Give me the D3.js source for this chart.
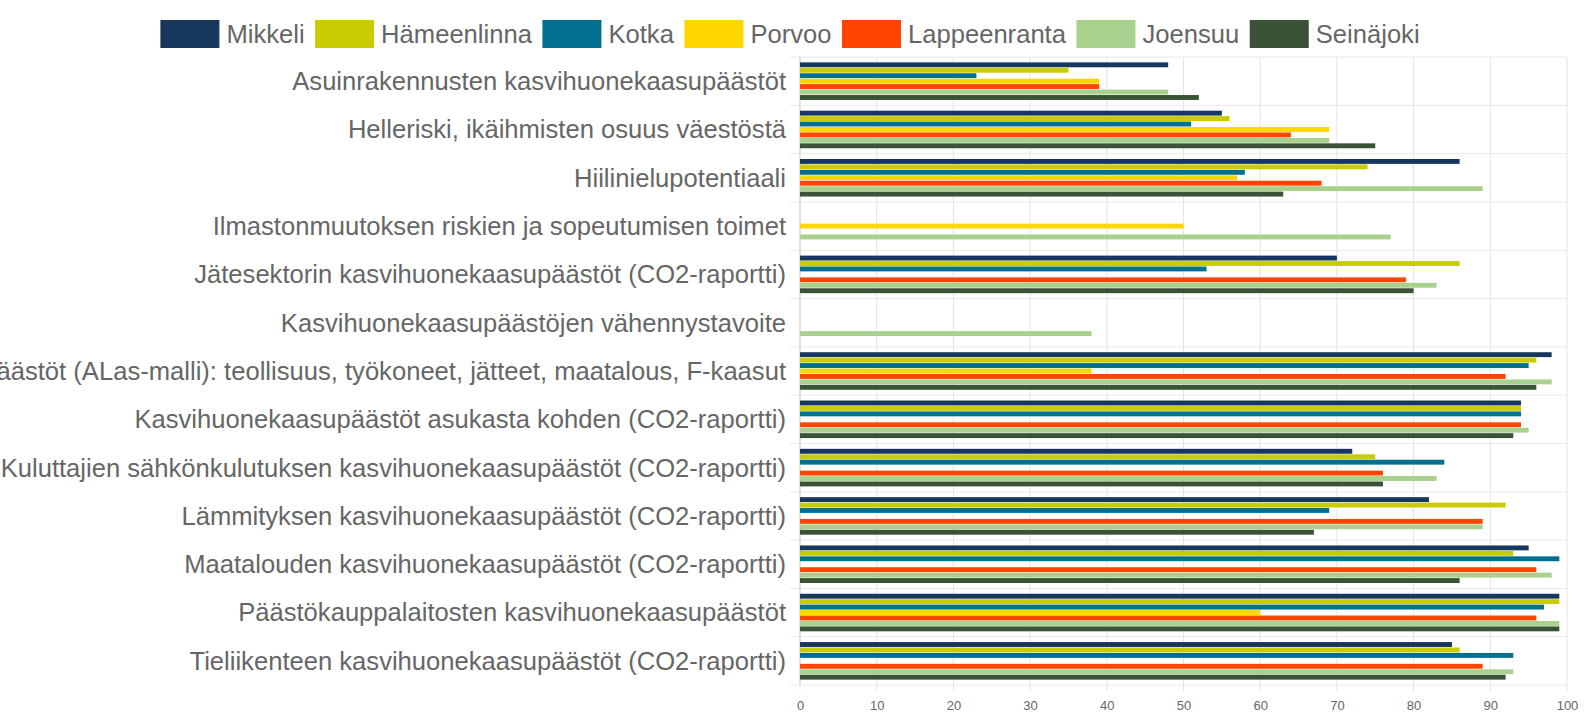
<!DOCTYPE html>
<html><head><meta charset="utf-8">
<script src="https://cdn.jsdelivr.net/npm/d3@7"></script>
<style>
html,body{margin:0;padding:0;background:#fff;overflow:hidden}
text{font-family:"Liberation Sans",Arial,sans-serif}
</style></head>
<body><svg id="c" width="1586" height="713"></svg>
<script>
const categories = [
  "Asuinrakennusten kasvihuonekaasupäästöt",
  "Helleriski, ikäihmisten osuus väestöstä",
  "Hiilinielupotentiaali",
  "Ilmastonmuutoksen riskien ja sopeutumisen toimet",
  "Jätesektorin kasvihuonekaasupäästöt (CO2-raportti)",
  "Kasvihuonekaasupäästöjen vähennystavoite",
  "Kasvihuonekaasupäästöt (ALas-malli): teollisuus, työkoneet, jätteet, maatalous, F-kaasut",
  "Kasvihuonekaasupäästöt asukasta kohden (CO2-raportti)",
  "Kuluttajien sähkönkulutuksen kasvihuonekaasupäästöt (CO2-raportti)",
  "Lämmityksen kasvihuonekaasupäästöt (CO2-raportti)",
  "Maatalouden kasvihuonekaasupäästöt (CO2-raportti)",
  "Päästökauppalaitosten kasvihuonekaasupäästöt",
  "Tieliikenteen kasvihuonekaasupäästöt (CO2-raportti)"
];
const seriesNames = ["Mikkeli","Hämeenlinna","Kotka","Porvoo","Lappeenranta","Joensuu","Seinäjoki"];
const seriesColors = ["#17375e","#c9cc00","#00708f","#ffd700","#ff4500","#a9d18e","#3a5236"];
const mikkeli      = [48,55,86,null,70,null,98,94,72,82,95,99,85];
const hameenlinna  = [35,56,74,null,86,null,96,94,75,92,93,99,86];
const kotka        = [23,51,58,null,53,null,95,94,84,69,99,97,93];
const porvoo       = [39,69,57,50,null,null,38,null,null,null,null,60,null];
const lappeenranta = [39,64,68,null,79,null,92,94,76,89,96,96,89];
const joensuu      = [48,69,89,77,83,38,98,95,83,89,98,99,93];
const seinajoki    = [52,75,63,null,80,null,96,93,76,67,86,99,92];
const xTicks = [0,10,20,30,40,50,60,70,80,90,100];

const seriesValues = [mikkeli,hameenlinna,kotka,porvoo,lappeenranta,joensuu,seinajoki];

const svg = d3.select("#c");
const pL = 800, pR = 1567, pT = 57, pB = 685;

const x = d3.scaleLinear().domain([0,100]).range([pL,pR]);
const y0 = d3.scaleBand().domain(categories).range([pT,pB]).paddingInner(0.2).paddingOuter(0.1);
const y1 = d3.scaleBand().domain(d3.range(seriesNames.length)).range([0,y0.bandwidth()]).padding(0.1);
const step = y0.step();

// vertical grid
svg.append("g").selectAll("line").data(xTicks).join("line")
  .attr("x1",d=>x(d)).attr("x2",d=>x(d)).attr("y1",pT).attr("y2",pB+6)
  .attr("stroke","#e3e3e3").attr("stroke-width",1);
// horizontal separators
const seps = d3.range(categories.length+1).map(i=>pT+i*step);
svg.append("g").selectAll("line").data(seps).join("line")
  .attr("x1",pL-10).attr("x2",pR).attr("y1",d=>d).attr("y2",d=>d)
  .attr("stroke","#e8e8e8").attr("stroke-width",1);
// y axis line
svg.append("line").attr("x1",pL).attr("x2",pL).attr("y1",pT).attr("y2",pB)
  .attr("stroke","#d0d0d0");

// bars
const groups = svg.append("g").selectAll("g").data(categories).join("g")
  .attr("transform",d=>`translate(0,${y0(d)})`);
groups.selectAll("rect").data((c,ci)=>seriesValues.map((s,si)=>({si,v:s[ci]})).filter(d=>d.v!=null))
  .join("rect")
  .attr("x",x(0)).attr("y",d=>y1(d.si)).attr("height",y1.bandwidth())
  .attr("width",d=>x(d.v)-x(0)).attr("fill",d=>seriesColors[d.si]);

// category labels
svg.append("g").selectAll("text").data(categories).join("text")
  .attr("x",786).attr("y",d=>y0(d)+y0.bandwidth()/2).attr("dy","0.35em")
  .attr("text-anchor","end").attr("font-size",25.6).attr("fill","#666").text(d=>d);

// x axis labels
const xAxis = d3.axisBottom(x).tickValues(xTicks).tickSize(0).tickPadding(0);
const ax = svg.append("g").attr("transform",`translate(0,${pB+16})`).call(xAxis);
ax.select(".domain").remove();
ax.selectAll("text").attr("font-size",13).attr("fill","#666").attr("font-family","'Liberation Sans',Arial,sans-serif");

// legend
const lg = svg.append("g");
const items = lg.selectAll("g").data(seriesNames).join("g");
items.append("rect").attr("width",59).attr("height",28).attr("y",20).attr("fill",(d,i)=>seriesColors[i]);
items.append("text").attr("x",66).attr("y",34).attr("dy","0.35em").attr("font-size",25.6).attr("fill","#666").text(d=>d);
let cx = 0; const gap = 10.5;
items.each(function(){
  const w = 66 + this.querySelector("text").getComputedTextLength();
  d3.select(this).attr("transform",`translate(${cx},0)`);
  cx += w + gap;
});
const total = cx - gap;
lg.attr("transform",`translate(${(159+1421)/2 - total/2},0)`);
</script></body></html>
